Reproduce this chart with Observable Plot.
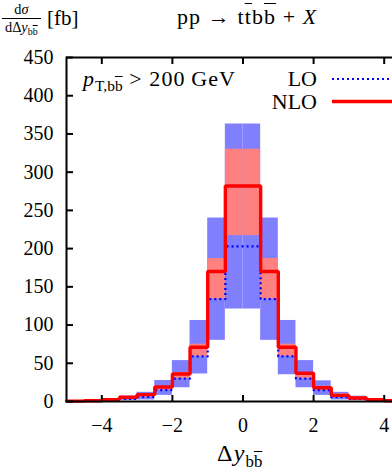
<!DOCTYPE html>
<html><head><meta charset="utf-8">
<script src="https://cdn.jsdelivr.net/npm/d3@7"></script>
<script src="https://cdn.jsdelivr.net/npm/@observablehq/plot@0.6"></script>
<style>
html,body{margin:0;padding:0;background:#fff;overflow:hidden}
#wrap{position:relative;width:392px;height:473px;overflow:hidden;font-family:"Liberation Serif","DejaVu Serif",serif;color:#000}
#wrap svg, #wrap svg text{font-family:"Liberation Serif","DejaVu Serif",serif !important}
#wrap svg{max-width:none !important}
.ov{position:absolute;white-space:nowrap;line-height:1}
.ob{text-decoration:overline;text-decoration-thickness:1px}
i{font-style:italic}
sub{font-size:70%;vertical-align:-0.35em;line-height:0;letter-spacing:0}
.op{margin:0 0.3em}
</style></head>
<body><div id="wrap"></div>
<script>
// Bin edges (Δy_bb̄)
const binLo = [-5,-4.5,-4,-3.5,-3,-2.5,-2,-1.5,-1,-0.5,0,0.5,1,1.5,2,2.5,3,3.5,4,4.5];
const binHi = [-4.5,-4,-3.5,-3,-2.5,-2,-1.5,-1,-0.5,0,0.5,1,1.5,2,2.5,3,3.5,4,4.5,5];
// central values [fb]
const nloVal = [0.5,1,2.5,5.5,9,19,36,71,170,282,282,170,71,37,18,8,4.5,2.2,1,0.5];
const loVal  = [0.3,0.7,1.8,3.5,6,15,30,59,134,203,203,134,59,30,15,5.6,3.5,1.8,0.7,0.3];
// scale-uncertainty bands
const loLow   = [0.1,0.3,0.8,1.5,2,8,18,36,80,121,121,80,35,18,8,2,1.5,0.8,0.3,0.1];
const loHigh  = [0.6,1.3,3.5,7,12,27.5,53.5,106,240,363,363,240,106,53.5,27,12,7,3.5,1.3,0.6];
const nloLow  = [0.4,0.8,2.2,4.8,6,15,30,59,134,217,217,134,59,30,15,5.6,4.8,2.2,0.8,0.4];
const nloHigh = [0.6,1.2,3,6.5,10,20,38,75,187,330,330,187,75,38,20,10,6,3,1.2,0.6];
const xTicks = [-4,-2,0,2,4];
const yTicks = [0,50,100,150,200,250,300,350,400,450];

const bins = binLo.map((a,i)=>({x1:a,x2:binHi[i],nlo:nloVal[i],lo:loVal[i],loL:loLow[i],loH:loHigh[i],nloL:nloLow[i],nloH:nloHigh[i]}));
const stepPts = key => bins.flatMap(b=>[{x:b.x1,y:b[key]},{x:b.x2,y:b[key]}]);

const chart = Plot.plot({
  width: 430, height: 473,
  marginLeft: 66, marginRight: 11, marginTop: 57, marginBottom: 72,
  style: {fontFamily: "Liberation Serif, serif", fontSize: "20px", background: "white", overflow: "visible", maxWidth: "none"},
  x: {domain: [-5,5]},
  y: {domain: [0,450]},
  marks: [
    Plot.rectY(bins, {x1:"x1", x2:"x2", y1:"loL", y2:"loH", fill:"#8080ff"}),
    Plot.rectY(bins, {x1:"x1", x2:"x2", y1:"nloL", y2:"nloH", fill:"#ff8080"}),
    Plot.line(stepPts("lo"), {x:"x", y:"y", stroke:"#0000ff", strokeWidth:2.2, strokeDasharray:"2,3", strokeLinecap:"butt"}),
    Plot.line(stepPts("nlo"), {x:"x", y:"y", stroke:"#ff0000", strokeWidth:3.4, strokeLinejoin:"miter"}),
    Plot.axisX(xTicks, {anchor:"bottom", tickSize:0, tickPadding:16, label:null, fontSize:20}),
    Plot.axisX(xTicks, {anchor:"bottom", tickSize:-6, strokeWidth:2, text:null, label:null}),
    Plot.axisX(xTicks, {anchor:"top", tickSize:-6, strokeWidth:2, text:null, label:null}),
    Plot.axisY(yTicks, {anchor:"left", tickSize:0, tickPadding:13, label:null, fontSize:20}),
    Plot.axisY(yTicks, {anchor:"left", tickSize:-7, strokeWidth:2, text:null, label:null}),
    Plot.frame({stroke:"black", strokeWidth:2})
  ]
});
const wrap = document.getElementById("wrap");
chart.style.position = "absolute"; chart.style.left = "0"; chart.style.top = "0";
chart.style.maxWidth = "none"; chart.style.width = "430px"; chart.style.height = "473px";
wrap.appendChild(chart);

// overlay text at a fixed size; widen slightly with letter-spacing toward the reference width, centre on cy
function ov(html, {left, right, cy, w, fs}){
  const d=document.createElement("div"); d.className="ov"; d.innerHTML=html;
  d.style.fontSize = fs+"px"; wrap.appendChild(d);
  const r = d.getBoundingClientRect();
  const n = d.textContent.replace(/\s+/g,"").length;
  if (w && r.width < w && n > 1) d.style.letterSpacing = Math.min((w - r.width)/n, fs*0.05)+"px";
  const r2 = d.getBoundingClientRect();
  if (left!=null) d.style.left = left+"px"; else d.style.left = (right - r2.width)+"px";
  d.style.top = (cy - r2.height/2)+"px";
  return d;
}
// y label fraction
ov(`<div style="display:inline-block;text-align:center;vertical-align:middle;font-size:0.68em;line-height:1.05">
  <div style="padding:0 3px 1px">d<i>σ</i></div>
  <div style="border-top:1px solid #000;padding:1px 3px 0">dΔ<i>y</i><sub>b<span class="ob">b</span></sub></div>
 </div><span style="vertical-align:middle;margin-left:0.3em">[fb]</span>`, {left:2, cy:18, fs:21});
ov(`pp<span class="op">→</span>t<span class="ob">t</span>b<span class="ob">b</span><span class="op">+</span><i>X</i>`, {left:177, cy:17, w:155, fs:22});
ov(`<i>p</i><sub>T,b<span class="ob">b</span></sub><span class="op">&gt;</span>200<span style="margin-left:0.25em">GeV</span>`, {left:83, cy:79, w:170, fs:22});
ov(`LO`, {right:317, cy:79, fs:22});
ov(`NLO`, {right:317, cy:102, fs:22});
ov(`Δ<i>y</i><sub>b<span class="ob">b</span></sub>`, {left:217, cy:453, w:53, fs:24});
// legend samples
const lg = d3.select(wrap).append("svg").attr("width",392).attr("height",473).style("position","absolute").style("left","0").style("top","0").style("pointer-events","none");
lg.append("line").attr("x1",332).attr("x2",400).attr("y1",79).attr("y2",79).attr("stroke","#0000ff").attr("stroke-width",2.2).attr("stroke-dasharray","2,3");
lg.append("line").attr("x1",332).attr("x2",400).attr("y1",101.5).attr("y2",101.5).attr("stroke","#ff0000").attr("stroke-width",3.4);
</script></body></html>
